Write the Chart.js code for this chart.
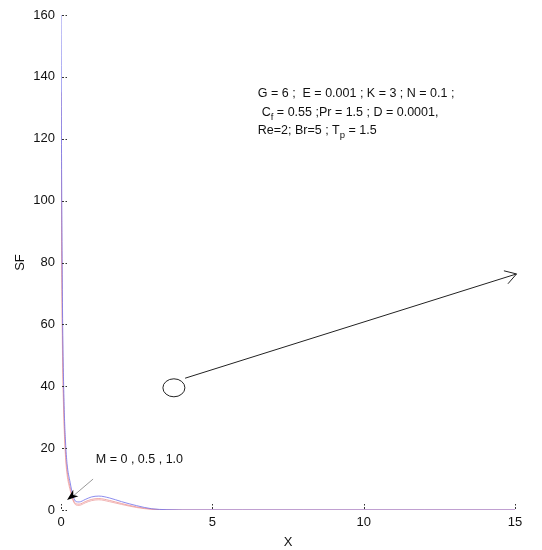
<!DOCTYPE html>
<html>
<head>
<meta charset="utf-8">
<script src="https://cdn.jsdelivr.net/npm/chart.js@4"></script>
<style>
html,body{margin:0;padding:0;background:#fff;}
#wrap{width:542px;height:550px;}
</style>
</head>
<body>
<div id="wrap"><canvas id="c" width="542" height="550"></canvas></div>
<script>
const xValues = [0, 0.02, 0.05, 0.1, 0.15, 0.2, 0.3, 0.4, 0.5, 0.6, 0.8, 1.0, 1.25, 1.6, 2.0, 2.5, 3.0, 3.5, 4, 6, 8, 10, 12, 15];
const sfM0   = [160, 110, 65, 35, 22, 15, 9.0, 4.5, 2.7, 2.6, 3.4, 4.2, 4.5, 3.9, 2.7, 1.4, 0.4, 0.1, 0, 0, 0, 0, 0, 0];
const sfM05  = [135, 95, 57, 31, 19, 13, 7.5, 3.5, 2.0, 1.9, 2.7, 3.4, 3.7, 3.1, 2.1, 1.0, 0.3, 0.05, 0, 0, 0, 0, 0, 0];
const sfM10  = [110, 82, 50, 28, 17, 11.5, 6.5, 3.0, 1.6, 1.5, 2.3, 3.0, 3.3, 2.7, 1.8, 0.8, 0.2, 0.03, 0, 0, 0, 0, 0, 0];
const seriesNames = ['M = 0', 'M = 0.5', 'M = 1.0'];
const xTicks = [0, 5, 10, 15];
const yTicks = [0, 20, 40, 60, 80, 100, 120, 140, 160];
const infoLines = ['G = 6 ;  E = 0.001 ; K = 3 ; N = 0.1 ;', 'C_f = 0.55 ;Pr = 1.5 ; D = 0.0001,', 'Re=2; Br=5 ; T_p = 1.5'];

function pts(ys){ return xValues.map((x,i)=>({x:x,y:ys[i]})); }

const FONT = '"Liberation Sans", Arial, sans-serif';

const decor = {
  id:'decor',
  afterDraw(chart){
    const ctx = chart.ctx, xs = chart.scales.x, ys = chart.scales.y;
    const X = v=>xs.getPixelForValue(v), Y = v=>ys.getPixelForValue(v);
    ctx.save();
    // inward tick marks
    ctx.strokeStyle = '#333'; ctx.lineWidth = 1;
    ctx.setLineDash([2,1.5]);
    yTicks.forEach(t=>{ const py=Math.round(Y(t))+0.5; ctx.beginPath(); ctx.moveTo(X(0)+1,py); ctx.lineTo(X(0)+6,py); ctx.stroke(); });
    xTicks.forEach(t=>{ const px=Math.round(X(t))+0.5; ctx.beginPath(); ctx.moveTo(px,Y(0)-1); ctx.lineTo(px,Y(0)-6); ctx.stroke(); });
    ctx.setLineDash([]);
    // info text
    ctx.fillStyle = '#111';
    ctx.textBaseline = 'middle';
    ctx.font = '12.5px ' + FONT;
    const drawSub = (x, y, parts)=>{
      let cx = x;
      parts.forEach(p=>{
        if (p.sub){ ctx.font='9.5px '+FONT; ctx.fillText(p.t, cx, y+5); cx += ctx.measureText(p.t).width; ctx.font='12.5px '+FONT; }
        else { ctx.fillText(p.t, cx, y); cx += ctx.measureText(p.t).width; }
      });
    };
    const tx = X(6.5);
    drawSub(tx, Y(134.6), [{t:infoLines[0]}]);
    const l1 = infoLines[1].split('_f');
    drawSub(tx+4, Y(128.5), [{t:'C'},{t:'f',sub:true},{t:l1[1]}]);
    const l2 = infoLines[2].split('_p');
    drawSub(tx, Y(122.6), [{t:l2[0]},{t:'p',sub:true},{t:l2[1]}]);
    // M label
    ctx.font = '12.5px ' + FONT;
    ctx.fillText(seriesNames.map(s=>s.replace('M = ','')).join(' , ').replace(/^/, 'M = '), X(1.15), Y(16.3));
    // small arrow with filled head
    ctx.strokeStyle = '#999'; ctx.lineWidth = 1;
    const ax0 = X(1.06), ay0 = Y(10), ax1 = X(0.2), ay1 = Y(3.2);
    ctx.beginPath(); ctx.moveTo(ax0, ay0); ctx.lineTo(ax1+6, ay1-4); ctx.stroke();
    const ang = Math.atan2(ay1-ay0, ax1-ax0);
    ctx.fillStyle = '#000';
    ctx.beginPath();
    ctx.moveTo(ax1, ay1);
    ctx.lineTo(ax1 - 12*Math.cos(ang-0.35), ay1 - 12*Math.sin(ang-0.35));
    ctx.lineTo(ax1 - 8*Math.cos(ang), ay1 - 8*Math.sin(ang));
    ctx.lineTo(ax1 - 12*Math.cos(ang+0.35), ay1 - 12*Math.sin(ang+0.35));
    ctx.closePath(); ctx.fill();
    // ellipse + long arrow
    ctx.strokeStyle = '#222'; ctx.lineWidth = 1;
    ctx.beginPath(); ctx.ellipse(X(3.73), Y(39.5), 11, 9, 0, 0, Math.PI*2); ctx.stroke();
    const bx0 = X(4.1), by0 = Y(42.6), bx1 = X(15.05), by1 = Y(76.3);
    ctx.beginPath(); ctx.moveTo(bx0, by0); ctx.lineTo(bx1, by1); ctx.stroke();
    const a2 = Math.atan2(by1-by0, bx1-bx0);
    ctx.beginPath();
    ctx.moveTo(bx1 - 13*Math.cos(a2-0.55), by1 - 13*Math.sin(a2-0.55));
    ctx.lineTo(bx1, by1);
    ctx.lineTo(bx1 - 13*Math.cos(a2+0.55), by1 - 13*Math.sin(a2+0.55));
    ctx.stroke();
    ctx.restore();
  }
};

new Chart(document.getElementById('c'), {
  type:'line',
  data:{
    datasets:[
      {label:seriesNames[0], data:pts(sfM0), borderColor:'rgba(120,120,235,0.85)', borderWidth:1, pointRadius:0, cubicInterpolationMode:'monotone'},
      {label:seriesNames[1], data:pts(sfM05), borderColor:'rgba(235,140,140,0.75)', borderWidth:1, pointRadius:0, cubicInterpolationMode:'monotone'},
      {label:seriesNames[2], data:pts(sfM10), borderColor:'rgba(235,150,150,0.7)', borderWidth:1, pointRadius:0, cubicInterpolationMode:'monotone'}
    ]
  },
  options:{
    responsive:false, animation:false, maintainAspectRatio:false,
    layout:{padding:{left:0,right:27,top:15,bottom:0}},
    plugins:{legend:{display:false}, tooltip:{enabled:false}},
    scales:{
      x:{type:'linear', min:0, max:15,
        afterBuildTicks:s=>{s.ticks = xTicks.map(v=>({value:v}));},
        afterFit:s=>{s.height=40;},
        grid:{display:false, drawTicks:false}, border:{display:false},
        ticks:{color:'#111', font:{family:FONT,size:13}, padding:5, maxRotation:0},
        title:{display:true, text:'X', color:'#111', font:{family:FONT,size:13}, padding:{top:1,bottom:0}}
      },
      y:{type:'linear', min:0, max:160,
        afterBuildTicks:s=>{s.ticks = yTicks.map(v=>({value:v}));},
        afterFit:s=>{s.width=61;},
        grid:{display:false, drawTicks:false}, border:{display:false},
        ticks:{color:'#111', font:{family:FONT,size:13}, padding:6},
        title:{display:true, text:'SF', color:'#111', font:{family:FONT,size:13}, padding:{top:13,bottom:0}}
      }
    }
  },
  plugins:[decor]
});
</script>
</body>
</html>
